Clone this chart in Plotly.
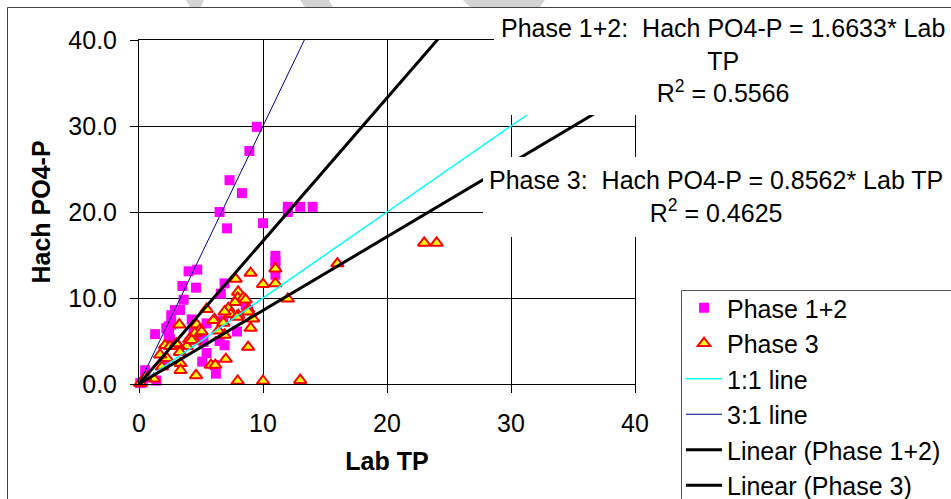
import plotly.graph_objects as go

# ---------------- data ----------------
phase12_x = [9.5, 8.9, 7.3, 8.3, 6.5, 7.1, 10.0, 12.0, 12.0, 13.0, 14.0,
             11.0, 11.0, 11.0, 11.0,
             4.7, 4.0, 3.5, 4.6, 3.6, 2.9, 2.6, 2.4, 1.3, 2.4, 2.5,
             4.25, 4.4, 5.1, 5.2, 5.45, 5.1, 6.2, 6.1, 6.5, 6.9, 6.6, 6.9, 7.9, 8.6, 8.8,
             0.5, 0.5, 1.4, 0.1, 0.3, 2.1, 3.3, 4.9, 5.45, 6.8, 2.4, 2.2, 2.6]
phase12_y = [29.9, 27.1, 23.7, 22.2, 20.0, 18.1, 18.7, 20.6, 20.0, 20.6, 20.6,
             14.9, 14.3, 13.6, 12.7,
             13.3, 13.1, 11.4, 11.2, 9.8, 8.6, 8.0, 6.7, 5.8, 5.7, 5.2,
             7.5, 6.4, 5.3, 4.9, 3.6, 2.6, 1.2, 2.2, 5.0, 4.5, 10.5, 11.7, 6.1, 9.2, 8.6,
             1.6, 0.9, 0.4, 0.1, 0.2, 2.8, 8.6, 5.9, 7.05, 7.4, 6.2, 6.5, 6.9]

phase3_x = [9.0, 7.8, 10.0, 11.0, 11.0, 8.0, 7.96, 8.4, 8.6, 7.74, 12.0, 8.8, 8.8,
            7.2, 7.4, 8.0, 9.2, 5.45, 6.1, 6.8, 3.25, 4.65, 4.9, 4.5, 6.4, 6.9, 9.0,
            4.5, 4.05, 3.85, 3.15, 2.1, 2.5, 3.0, 3.3, 8.8, 2.25, 1.85, 1.7, 3.35,
            3.35, 5.8, 6.15, 7.0, 4.6, 7.96, 10.0, 13.0, 1.2, 0.1, 0.5, 16.0, 23.0,
            24.0, 6.9, 6.0, 5.05, 4.25, 7.9]
phase3_y = [12.9, 12.2, 11.6, 11.7, 13.4, 10.7, 10.0, 10.0, 9.8, 9.5, 9.9, 8.7, 8.4,
            8.8, 8.1, 8.0, 7.6, 8.7, 7.5, 7.1, 6.9, 6.9, 6.3, 5.9, 6.2, 5.7, 6.5,
            5.0, 5.2, 4.4, 4.5, 4.5, 4.4, 4.7, 3.7, 4.3, 3.0, 2.0, 3.4, 2.4,
            1.6, 2.2, 2.2, 2.9, 1.0, 0.35, 0.35, 0.45, 0.6, 0.1, 0.8, 14.0, 16.4,
            16.4, 8.4, 7.4, 6.1, 5.1, 7.8]

one_to_one_x = [0, 40]
one_to_one_y = [0, 40]
three_to_one_x = [0, 13.5]
three_to_one_y = [0, 40.5]
trend12_x = [0, 40]
trend12_y = [0, 66.532]     # 1.6633 * Lab TP
trend3_x = [0, 40]
trend3_y = [0, 34.248]      # 0.8562 * Lab TP

x_ticks = [0, 10, 20, 30, 40]
y_ticks = [0, 10, 20, 30, 40]

eq12_text = "Phase 1+2:  Hach PO4-P = 1.6633* Lab<br>TP<br>R<sup>2</sup> = 0.5566"
eq3_text = "Phase 3:  Hach PO4-P = 0.8562* Lab TP<br>R<sup>2</sup> = 0.4625"

FONT = "Liberation Sans, Arial, sans-serif"
FS = 25

# ---------------- figure ----------------
fig = go.Figure()

fig.add_trace(go.Scatter(
    x=phase12_x, y=phase12_y, mode="markers", name="Phase 1+2", legendgroup="a",
    marker=dict(symbol="square", size=10, color="#FF00FF", line=dict(width=0)),
    cliponaxis=False))
fig.add_trace(go.Scatter(
    x=phase3_x, y=phase3_y, mode="markers", name="Phase 3", legendgroup="b",
    marker=dict(symbol="triangle-up", size=11, color="#FFFF00",
                line=dict(color="#FF0000", width=2)),
    cliponaxis=False))
fig.add_trace(go.Scatter(
    x=one_to_one_x, y=one_to_one_y, mode="lines", name="1:1 line", legendgroup="c",
    line=dict(color="#00FFFF", width=1.5)))
fig.add_trace(go.Scatter(
    x=three_to_one_x, y=three_to_one_y, mode="lines", name="3:1 line", legendgroup="d",
    line=dict(color="#000080", width=1)))
fig.add_trace(go.Scatter(
    x=trend12_x, y=trend12_y, mode="lines", name="Linear (Phase 1+2)", legendgroup="e",
    line=dict(color="#000000", width=3)))
fig.add_trace(go.Scatter(
    x=trend3_x, y=trend3_y, mode="lines", name="Linear (Phase 3)", legendgroup="f",
    line=dict(color="#000000", width=3)))

# plot area in window pixels: left 139, right 635, top 40, bottom 384
L, R, T, B = 139, 635, 40, 384
W, H = 951, 499


def px(xp):
    return (xp - L) / (R - L)


def py(yp):
    return (B - yp) / (B - T)


axis_common = dict(
    showgrid=True, gridcolor="#000000", gridwidth=1,
    showline=True, linecolor="#000000", linewidth=1, mirror=True,
    ticks="outside", ticklen=8, tickcolor="#000000", tickwidth=1,
    zeroline=False,
    tickfont=dict(family=FONT, size=FS, color="#000000"),
)

fig.update_xaxes(range=[0, 40], tickvals=x_ticks, ticktext=[str(v) for v in x_ticks],
                 ticklabelstandoff=9,
                 title=dict(text="<b>Lab TP</b>", font=dict(family=FONT, size=FS, color="#000"),
                            standoff=16),
                 **axis_common)
fig.update_yaxes(range=[0, 40], tickvals=y_ticks, ticktext=[f"{v:.1f}" for v in y_ticks],
                 ticklabelstandoff=8,
                 title=dict(text="<b>Hach PO4-P</b>", font=dict(family=FONT, size=FS, color="#000"),
                            standoff=10),
                 **axis_common)

shapes = []
# faint watermark fragments at the very top
for pts in [[(186, 0), (204, 0), (201, 7), (190, 7)],
            [(300, 0), (329, 0), (333, 7), (305, 7)],
            [(463, 0), (545, 0), (540, 7), (470, 7)]]:
    path = "M " + " L ".join(f"{px(a):.4f},{py(b):.4f}" for a, b in pts) + " Z"
    shapes.append(dict(type="path", xref="paper", yref="paper", path=path,
                       fillcolor="#d4d4d4", line=dict(width=0), layer="below"))
# white text boxes that hide part of the plot (as in the reference)
shapes.append(dict(type="rect", xref="paper", yref="paper",
                   x0=px(494), x1=px(960), y0=py(115), y1=py(12),
                   fillcolor="#FFFFFF", line=dict(width=0), layer="above"))
shapes.append(dict(type="rect", xref="paper", yref="paper",
                   x0=px(483), x1=px(960), y0=py(237), y1=py(157),
                   fillcolor="#FFFFFF", line=dict(width=0), layer="above"))
# legend frame (left and top edges; the rest lies outside the window)
shapes.append(dict(type="path", xref="paper", yref="paper",
                   path=f"M {px(681.5):.5f},{py(499):.5f} L {px(681.5):.5f},{py(290.5):.5f} "
                        f"L {px(951):.5f},{py(290.5):.5f}",
                   line=dict(color="#555555", width=1), layer="above"))
# outer chart border (top and left edges are visible)
shapes.append(dict(type="path", xref="paper", yref="paper",
                   path=f"M {px(7.5):.5f},{py(499):.5f} L {px(7.5):.5f},{py(7.5):.5f} "
                        f"L {px(951):.5f},{py(7.5):.5f}",
                   line=dict(color="#444444", width=1), layer="above"))

annotations = [
    dict(xref="paper", yref="paper", x=px(723), y=py(60), xanchor="center", yanchor="middle",
         text=eq12_text, showarrow=False, align="center",
         font=dict(family=FONT, size=FS, color="#000000")),
    dict(xref="paper", yref="paper", x=px(716), y=py(196), xanchor="center", yanchor="middle",
         text=eq3_text, showarrow=False, align="center",
         font=dict(family=FONT, size=FS, color="#000000")),
]

fig.update_layout(
    width=W, height=H,
    margin=dict(l=L, r=W - R, t=T, b=H - B, autoexpand=False),
    paper_bgcolor="#FFFFFF", plot_bgcolor="#FFFFFF",
    font=dict(family=FONT, size=FS, color="#000000"),
    showlegend=True,
    legend=dict(x=px(681), y=py(285), xanchor="left", yanchor="top",
                bgcolor="rgba(0,0,0,0)", borderwidth=0,
                font=dict(family=FONT, size=FS, color="#000000"),
                tracegroupgap=0, traceorder="grouped", itemwidth=36),
    shapes=shapes, annotations=annotations,
)

fig.write_html("out.html", config={"displayModeBar": False},
               post_script="document.body.style.margin='0px';document.body.style.overflow='hidden';")
